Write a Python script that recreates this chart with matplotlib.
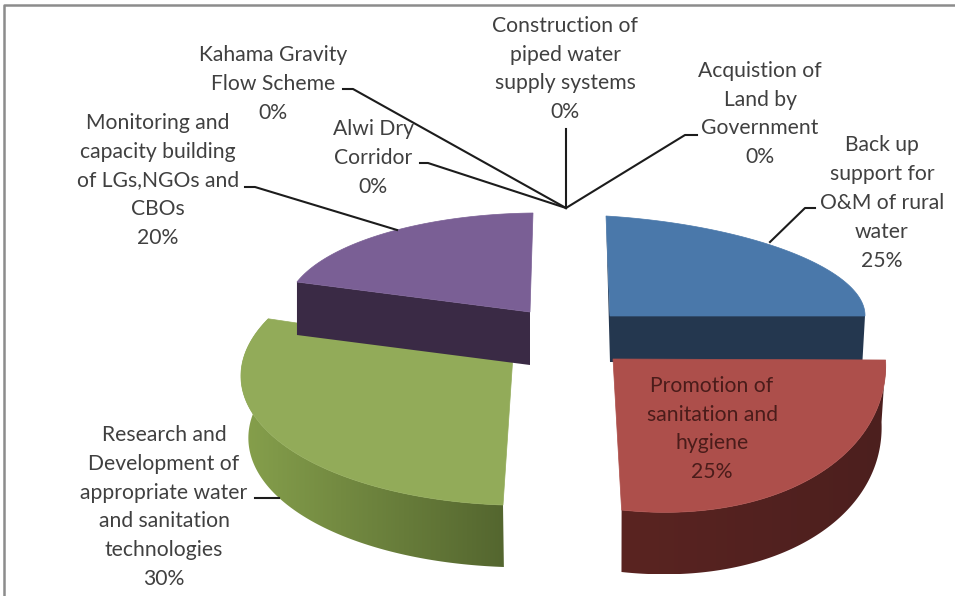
import numpy as np
import matplotlib
matplotlib.use('Agg')
import matplotlib.pyplot as plt
from matplotlib.colors import LinearSegmentedColormap
from matplotlib.patches import Polygon

plt.rcParams['font.family'] = ['Lato', 'DejaVu Sans']

# slices in chart order, clockwise from the top
categories = ['Back up\nsupport for\nO&M of rural\nwater',
              'Promotion of\nsanitation and\nhygiene',
              'Research and\nDevelopment of\nappropriate water\nand sanitation\ntechnologies',
              'Monitoring and\ncapacity building\nof LGs,NGOs and\nCBOs',
              'Alwi Dry\nCorridor',
              'Kahama Gravity\nFlow Scheme',
              'Construction of\npiped water\nsupply systems',
              'Acquistion of\nLand by\nGovernment']
values = [25, 25, 30, 20, 0, 0, 0, 0]

top_colors = ['#4a78aa', '#ad4f4b', '#92ab59', '#7a5f95']
side_colors = [('#24374f', '#24374f'), ('#5a2421', '#4c1f1e'),
               ('#86a04c', '#54662f'), ('#3a2a45', '#3a2a45')]

# look of each exploded slice: apex, ellipse centre, the two ellipse axes, depth
apex = [(610, 316), (613, 359), (513, 355), (530, 312)]
centre = [(604, 300), (613.6, 331), (538, 370), (537.7, 309)]
axis_u = [(261, 16), (272, 29), (295, 10), (251.6, -2.8)]
axis_v = [(2, -84), (-8, -179), (35, -135), (-4.7, -96)]
depth = [46, 62, 62, 53]
shrink = [0.99, 0.985, 0.975, 1.0]

# label placement and leader lines, all in pixels of the picture
label_pos = [(882, 203), (712, 429), (164, 507), (158, 180.5),
             (373, 158), (273, 84), (565, 69), (760, 114)]
leaders = [[(815, 208), (805, 208), (770, 242)],
           None,
           [(255, 498), (279, 498)],
           [(245, 187), (255, 187), (397, 230)],
           [(420, 163), (428, 163), (566, 208)],
           [(343, 89), (353, 89), (566, 208)],
           [(566, 129), (566, 208)],
           [(697, 135), (685, 135), (566, 208)]]

fig = plt.figure(figsize=(9.55, 5.96), dpi=100)
ax = fig.add_axes([0, 0, 1, 1])


def arc_points(i, t0, t1):
    t = np.radians(np.linspace(t0, t1, 120))
    c, u, v = np.array(centre[i]), np.array(axis_u[i]), np.array(axis_v[i])
    return c + np.outer(np.sin(t), u) + np.outer(np.cos(t), v)


def draw_slice(i, t0, t1):
    arc = arc_points(i, t0, t1)
    low = arc + [0, depth[i]]
    low[:, 0] = centre[i][0] + (low[:, 0] - centre[i][0]) * shrink[i]
    ap = np.array(apex[i], dtype=float)
    ap_low = ap + [0, depth[i]]

    # flat cut face for the two back slices
    if i == 0:
        ax.add_patch(Polygon([arc[0], ap, ap_low], fc=side_colors[i][0], ec='none', zorder=i))
        ax.add_patch(Polygon([ap, arc[-1], low[-1], ap_low], fc=side_colors[i][0], ec='none', zorder=i))
    if i == 3:
        ax.add_patch(Polygon([ap, arc[0], low[0], ap_low], fc=side_colors[i][0], ec='none', zorder=i))

    # rounded outside wall for the two front slices, shaded left to right
    if i in (1, 2):
        wall = Polygon(np.vstack([arc, low[::-1]]), fc='none', ec='none', zorder=i)
        ax.add_patch(wall)
        cmap = LinearSegmentedColormap.from_list('side', side_colors[i])
        xmin, xmax = min(arc[:, 0].min(), low[:, 0].min()), max(arc[:, 0].max(), low[:, 0].max())
        ymin, ymax = min(arc[:, 1].min(), low[:, 1].min()), max(arc[:, 1].max(), low[:, 1].max())
        im = ax.imshow(np.linspace(0, 1, 256).reshape(1, -1), cmap=cmap, aspect='auto',
                       extent=(xmin, xmax, ymax, ymin), zorder=i)
        im.set_clip_path(wall)

    ax.add_patch(Polygon(np.vstack([ap, arc]), fc=top_colors[i], ec=top_colors[i], lw=0.5, zorder=i + 0.5))


total = sum(values)
start = 0
for i, val in enumerate(values):
    sweep = 360 * val / total
    if val > 0:
        draw_slice(i, start, start + sweep)
    start += sweep

ax.set_xlim(0, 955)
ax.set_ylim(596, 0)
ax.axis('off')

for pts in leaders:
    if pts is not None:
        xs, ys = zip(*pts)
        ax.plot(xs, ys, color='#1c1c1c', lw=1.5, zorder=5, solid_joinstyle='round')

for i, cat in enumerate(categories):
    col = '#4a1c1a' if i == 1 else '#404040'
    ax.text(label_pos[i][0], label_pos[i][1], f'{cat}\n{values[i]}%', ha='center', va='center',
            ma='center', fontsize=15.2, color=col, linespacing=1.55, zorder=6)

# grey frame of the chart area, only its top and left edge are in the crop
ax.plot([3.5, 3.5, 955], [596, 4.5, 4.5], color='#8c8c8c', lw=1.8, zorder=7)

fig.savefig('out.png', dpi=100)
